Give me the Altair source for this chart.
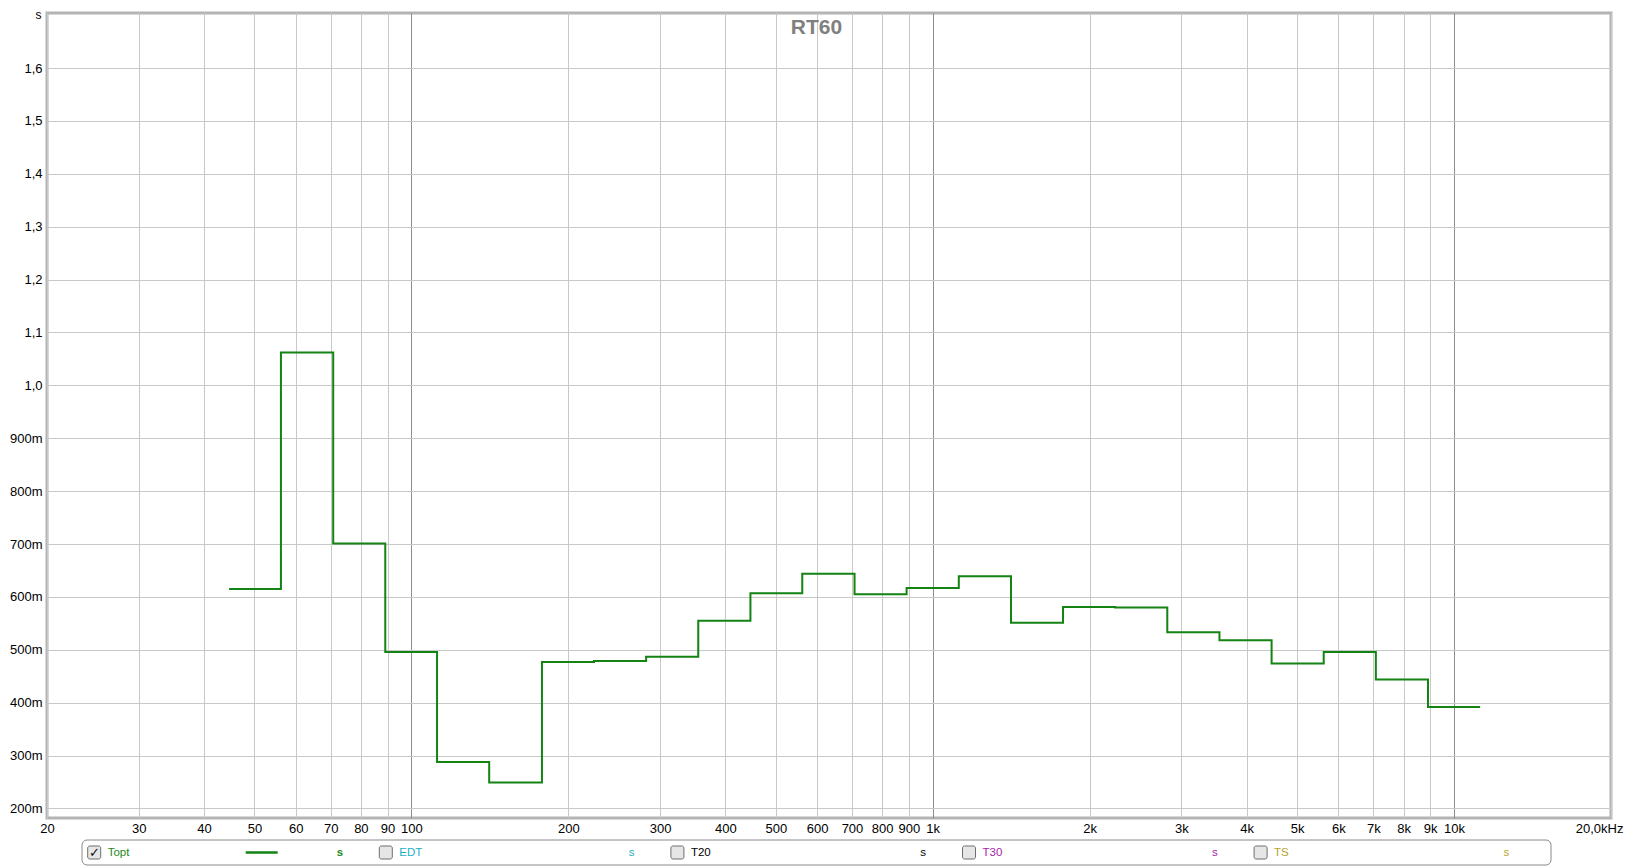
import altair as alt
import pandas as pd

# ---- data ----
band_edges_hz = [44.7, 56.2, 70.8, 89.1, 112, 141, 178, 224, 282, 355, 447, 562,
                 708, 891, 1122, 1413, 1778, 2239, 2818, 3548, 4467, 5623, 7079,
                 8913, 11220]
rt60_s = [0.615, 1.062, 0.701, 0.496, 0.288, 0.249, 0.477, 0.479, 0.487, 0.555,
          0.607, 0.644, 0.605, 0.617, 0.639, 0.551, 0.581, 0.580, 0.533, 0.518,
          0.474, 0.496, 0.444, 0.392]

x_ticks = [20, 30, 40, 50, 60, 70, 80, 90, 100, 200, 300, 400, 500, 600, 700, 800,
           900, 1000, 2000, 3000, 4000, 5000, 6000, 7000, 8000, 9000, 10000, 20000]
x_labels = ["20", "30", "40", "50", "60", "70", "80", "90", "100", "200", "300",
            "400", "500", "600", "700", "800", "900", "1k", "2k", "3k", "4k", "5k",
            "6k", "7k", "8k", "9k", "10k", "20,0kHz"]
decade_ticks = [100, 1000, 10000]
y_ticks = [0.2, 0.3, 0.4, 0.5, 0.6, 0.7, 0.8, 0.9, 1.0, 1.1, 1.2, 1.3, 1.4, 1.5, 1.6]
y_labels = ["200m", "300m", "400m", "500m", "600m", "700m", "800m", "900m",
            "1,0", "1,1", "1,2", "1,3", "1,4", "1,5", "1,6"]

legend_names = ["Topt", "EDT", "T20", "T30", "TS"]
legend_colors = ["#228B22", "#1AAFC0", "#000000", "#A626A6", "#B5A22A"]
legend_checked = [True, False, False, False, False]

title_text = "RT60"
y_unit = "s"

# ---- layout ----
W, H = 1564, 805
FONT = "Liberation Sans"
LINE_GREEN = "#138313"

df = pd.DataFrame({"f": band_edges_hz, "t": rt60_s + [rt60_s[-1]]})
one = pd.DataFrame({"k": [0]})


def js_list(vals, quote=False):
    if quote:
        return "[" + ",".join("'" + v + "'" for v in vals) + "]"
    return "[" + ",".join(repr(v) for v in vals) + "]"


x_label_expr = f"{js_list(x_labels, True)}[indexof({js_list(x_ticks)}, datum.value)]"
y_label_expr = f"{js_list(y_labels, True)}[indexof({js_list(y_ticks)}, datum.value)]"
decade_test = f"indexof({js_list(decade_ticks)}, datum.value) >= 0"
last_test = f"datum.value == {x_ticks[-1]}"

x_axis = alt.Axis(
    values=x_ticks, labelExpr=x_label_expr, grid=True,
    gridColor={"condition": {"test": decade_test, "value": "#8c8c8c"}, "value": "#c8c8c8"},
    gridWidth=1, ticks=False, domain=False, labelFlush=False, labelOverlap=False,
    labelBound=False, labelFont=FONT, labelFontSize=13, labelColor="#000000",
    labelAlign={"condition": {"test": last_test, "value": "right"}, "value": "center"},
    labelOffset={"condition": {"test": last_test, "value": 12}, "value": 0},
    labelPadding=4, title=None,
)
y_axis = alt.Axis(
    values=y_ticks, labelExpr=y_label_expr, grid=True, gridColor="#c8c8c8",
    gridWidth=1, ticks=False, domain=False, labelFont=FONT, labelFontSize=13,
    labelColor="#000000", labelPadding=5, labelFlush=False, labelOverlap=False,
    title=None,
)

line = alt.Chart(df).mark_line(
    interpolate="step-after", color=LINE_GREEN, strokeWidth=2, clip=True
).encode(
    x=alt.X("f:Q", scale=alt.Scale(type="log", domain=[20, 20000], nice=False), axis=x_axis),
    y=alt.Y("t:Q", scale=alt.Scale(domain=[0.182, 1.704], nice=False, zero=False), axis=y_axis),
)

title = alt.Chart(one).mark_text(
    font=FONT, fontSize=21, fontWeight="bold", color="#808080",
    align="center", baseline="middle"
).encode(x=alt.value(769.5), y=alt.value(14.5), text=alt.value(title_text))

unit = alt.Chart(one).mark_text(
    font=FONT, fontSize=12, color="#000000", align="center", baseline="top"
).encode(x=alt.value(-8.5), y=alt.value(-3), text=alt.value(y_unit))

layers = [line, title, unit]

# legend bar below the plot (plot-relative pixel positions)
box_top, box_bot = 827, 852
mid_y = (box_top + box_bot) / 2
layers.append(
    alt.Chart(one).mark_rect(
        fill="#ffffff", stroke="#8a8a8a", strokeWidth=1, cornerRadius=5
    ).encode(x=alt.value(35), x2=alt.value(1504), y=alt.value(box_top), y2=alt.value(box_bot))
)

spacing = 291.6
for i, (name, col, chk) in enumerate(zip(legend_names, legend_colors, legend_checked)):
    cb_left = 40.7 + i * spacing
    layers.append(
        alt.Chart(one).mark_rect(
            fill="#e6e6e6", stroke="#6e6e6e", strokeWidth=1, cornerRadius=2
        ).encode(x=alt.value(cb_left), x2=alt.value(cb_left + 13),
                 y=alt.value(mid_y - 6.5), y2=alt.value(mid_y + 6.5))
    )
    if chk:
        layers.append(
            alt.Chart(one).mark_text(
                font="DejaVu Sans", fontSize=13, fontWeight="bold", color="#111111",
                align="center", baseline="middle"
            ).encode(x=alt.value(cb_left + 6.8), y=alt.value(mid_y), text=alt.value("\u2713"))
        )
    layers.append(
        alt.Chart(one).mark_text(
            font=FONT, fontSize=11.5, color=col, align="left", baseline="middle"
        ).encode(x=alt.value(cb_left + 20), y=alt.value(mid_y), text=alt.value(name))
    )
    layers.append(
        alt.Chart(one).mark_text(
            font=FONT, fontSize=11.5, fontWeight="bold" if chk else "normal", color=col,
            align="center", baseline="middle"
        ).encode(x=alt.value(cb_left + 252.3), y=alt.value(mid_y), text=alt.value(y_unit))
    )
    if chk:
        layers.append(
            alt.Chart(one).mark_rule(color=LINE_GREEN, strokeWidth=2.5).encode(
                x=alt.value(cb_left + 158), x2=alt.value(cb_left + 190), y=alt.value(mid_y)
            )
        )

chart = alt.layer(*layers).properties(
    width=W, height=H,
    padding={"left": 39, "top": 5, "right": 14, "bottom": 48},
    autosize=alt.AutoSizeParams(type="none"),
    background="#ffffff",
).configure_view(stroke="#b4b4b4", strokeWidth=3)

chart.save("out.html", embed_options={"renderer": "svg", "actions": False})
